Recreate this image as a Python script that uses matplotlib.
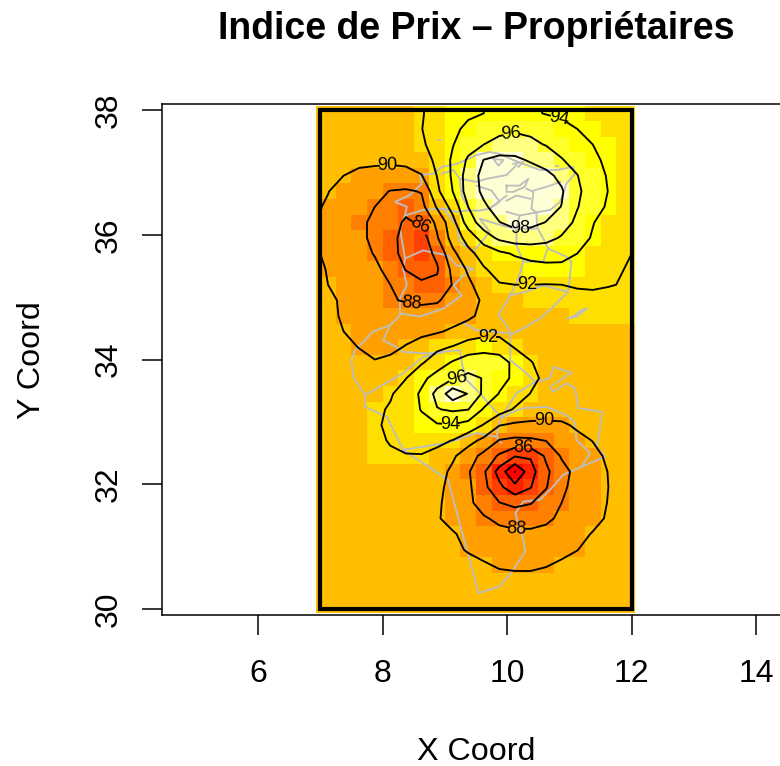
import numpy as np
import matplotlib
matplotlib.use("Agg")
import matplotlib.pyplot as plt
from matplotlib.colors import ListedColormap, BoundaryNorm
from matplotlib.patches import Rectangle

plt.rcParams['font.family'] = ['Liberation Sans', 'DejaVu Sans']

# grille
lon = [6.875, 7.125, 7.375, 7.625, 7.875, 8.125, 8.375, 8.625, 8.875, 9.125, 9.375,
       9.625, 9.875, 10.125, 10.375, 10.625, 10.875, 11.125, 11.375, 11.625, 11.875, 12.125]
lat = [38.2, 37.95, 37.7, 37.45, 37.2, 36.95, 36.7, 36.45, 36.2, 35.95, 35.7, 35.45, 35.2,
       34.95, 34.7, 34.45, 34.2, 33.95, 33.7, 33.45, 33.2, 32.95, 32.7, 32.45, 32.2, 31.95,
       31.7, 31.45, 31.2, 30.95, 30.7, 30.45, 30.2, 29.95]
indice = [
    [91,91,91,91,91,91.2,91.6,92,92.5,93.2,93.6,94,94.3,94.4,94.2,93.9,93.5,93.3,93,92.6,92.3,92.1],
    [91,91,91,91,91,91,91.5,91.9,92.5,93.2,93.7,94,94.4,94.5,94.3,93.9,93.6,93.3,92.9,92.5,92.2,92],
    [90.9,90.9,90.9,90.9,90.9,91,91.4,91.95,92.9,93.6,94.4,95,95.5,95.7,95.6,95.3,94.7,94,93.3,92.8,92.4,92.1],
    [90.8,90.8,90.8,90.8,90.8,90.9,91.2,91.7,92.8,93.9,95.2,96,96.6,96.9,96.4,95.9,95.4,94.7,94,93.2,92.6,92.2],
    [90.5,90.5,90.5,90.5,90.5,90.4,90.5,91.1,92.4,94.3,96.3,98.05,98.6,98.4,97.8,97.2,96.1,95.4,94.6,93.4,92.8,92.3],
    [90.7,90.4,90,89.5,89.2,89.1,89.3,89.9,92.05,94.3,96.9,98.6,99.2,99.3,99.1,98.5,97.5,96.05,95,93.8,93,92.4],
    [90.5,90.05,89.4,88.9,88.4,87.95,87.8,88.1,91.6,94,96.9,98.4,99.3,99.5,99.4,99,98.2,96.3,95.2,93.95,93.1,92.5],
    [90.3,89.8,89,88.5,88,87.2,86.6,87.4,90.2,92.7,96,97.7,98.8,99.2,99.1,98.7,97.95,96.1,94.9,93.7,92.9,92.4],
    [90.2,89.6,88.9,88.3,87.7,86.8,85.7,86.3,88.4,91.3,95,97,97.95,98.6,98.5,97.95,96.9,95.6,94.1,93.1,92.5,92.2],
    [90.3,89.6,89,88.4,87.6,86.5,85.4,84.9,87.8,90.8,92.7,95,96.4,97,97,96.6,95.8,94.9,93.8,92.8,92.3,92],
    [90.3,89.7,89.1,88.6,87.9,86.5,85.5,85.1,86.4,89.5,91.5,92.7,93.6,94.2,94.6,94.7,94.5,94,93.1,92.5,92.1,91.9],
    [90.5,89.9,89.4,88.9,88.4,87.4,85.9,85.3,85.8,88.5,90.3,91.85,92.6,93,93.3,93.5,93.6,93.4,92.9,92.4,92,91.8],
    [90.7,90,89.6,89.2,88.6,88,87,86.3,86.4,88.1,89.6,91,91.9,92,92,91.95,92,92.05,92.1,92.05,91.95,91.8],
    [91,90.4,89.7,89.3,88.9,88.1,87.9,87.7,87.8,88.7,89.2,90.3,91,91.4,91.6,91.7,91.8,91.85,91.8,91.7,91.7,91.6],
    [91,90.6,89.7,89.4,89.2,88.9,88.7,88.7,88.9,89.2,89.7,90.4,91,91.2,91.3,91.4,91.5,91.6,91.6,91.6,91.6,91.6],
    [91,90.6,90,89.6,89.4,89.3,89.4,89.6,89.8,90.3,90.8,91.2,91.4,91.4,91.3,91.3,91.3,91.3,91.3,91.3,91.3,91.3],
    [91,90.8,90.4,89.95,89.6,89.6,90.1,90.7,91.6,92.1,93,93.4,93.1,91.85,91.4,91.2,91.1,91,91,91,91,91],
    [91,91,90.9,90.5,90.1,90.4,91,91.8,93,94.2,95,95,94.9,93.5,92.1,91.4,91.1,91,91,91,91,91],
    [91,91,91,91,91,91.1,91.95,93.5,94.8,95.8,96.5,95.9,94.7,93.6,92.6,91.5,91.1,91,91,91,91,91],
    [91,91,91,91,91.3,91.8,92.9,94.3,96.6,99.2,97.9,95.6,93.9,93.1,91.95,91.3,91,91,91,91,91,91],
    [91,91,91,91.1,91.6,92.2,93,94.1,95.9,96.3,96.05,93.8,92.9,91.8,91.2,91,91,91,91,91,91,91],
    [91,91,91,91.3,91.7,92.4,92.9,93.4,93.8,93.9,93.3,91.9,90.1,89.7,89.6,89.6,89.7,90.3,90.7,91,91,91],
    [91,91,91,91.3,91.7,92.1,92.5,92.7,92.4,91.95,90.7,89.5,87.9,87.6,87.7,88.05,88.7,89.5,90.05,90.7,91,91],
    [91,91,91.1,91.4,91.6,91.8,91.9,91.9,91.5,90.3,88.9,87.4,85.7,84.1,84.2,86.3,88.2,88.9,89.5,90.3,90.8,91],
    [91,91,91,91.2,91.3,91.4,91.4,91.3,90.8,89.6,88.2,86.3,83.2,79.95,83.2,85.6,87.3,88.6,89.2,90.05,90.7,91],
    [91,91,91,91.2,91.3,91.4,91.4,91.2,90.4,89.5,88.4,86.5,84.5,82.6,83.9,85.9,87.5,88.9,89.5,90,90.7,91],
    [91,91,91,91.1,91.2,91.3,91.3,91.2,90.3,89.3,88.4,87.2,86.05,85.5,85.9,86.8,88,88.9,89.5,90.05,90.7,91],
    [91,91,91,91.1,91.1,91.2,91.2,91.1,90.2,89.3,88.7,88.2,87.6,87.2,87.2,87.6,88.4,89,89.5,90.2,90.6,91],
    [91,91,91,91,91,91.1,91.1,91,90.7,90.2,89.4,88.9,88.5,88.4,88.4,88.6,89,89.5,90.1,90.6,90.9,91],
    [91,91,91,91,91,91,91,91,91,90.5,89.8,89.4,89.2,89.1,89.1,89.3,89.5,89.95,90.7,91,91,91],
    [91,91,91,91,91,91,91,91,91,91,90.7,90.2,89.8,89.7,89.7,89.9,90.3,90.7,91,91,91,91],
    [91,91,91,91,91,91,91,91,91,91,91,90.9,90.6,90.5,90.5,90.7,90.9,91,91,91,91,91],
    [91]*22,
    [91]*22,
]

# heat.colors(12)
couleurs = ["#FF0000", "#FF2000", "#FF4000", "#FF6000", "#FF8000", "#FF9F00",
            "#FFBF00", "#FFDF00", "#FFFF00", "#FFFF2A", "#FFFF80", "#FFFFD5"]
bornes = [80.4, 82, 83.6, 85.2, 86.8, 88.4, 90, 91.6, 93.2, 94.8, 96.4, 98, 99.6]
niveaux = [80, 82, 84, 86, 88, 90, 92, 94, 96, 98]

etiquettes = [(8.08, 37.1), (10.82, 37.84), (10.07, 37.54), (10.2, 36.22), (10.32, 35.26),
              (8.59, 36.04), (8.47, 34.95), (9.70, 34.30), (9.19, 33.70), (9.08, 33.0),
              (10.59, 33.0), (10.26, 32.52), (10.15, 31.35)]

# contours du pays et des gouvernorats (lon, lat)
contour_pays = [(8.60,36.96),(8.81,36.98),(8.95,37.09),(9.19,37.14),(9.51,37.28),(9.72,37.33),(9.88,37.30),
    (10.10,37.20),(10.26,37.14),(10.53,37.04),(10.79,37.04),(11.06,37.09),(11.09,36.98),(10.95,36.82),
    (10.90,36.66),(10.85,36.53),(10.69,36.40),(10.47,36.36),(10.48,36.13),(10.58,35.94),(10.66,35.78),
    (10.95,35.65),(11.03,35.57),(11.01,35.35),(10.98,35.09),(10.79,34.90),(10.53,34.66),(10.31,34.53),
    (10.05,34.39),(10.05,34.23),(10.05,33.99),(10.31,33.78),(10.45,33.64),(10.69,33.70),(10.74,33.88),
    (11.03,33.79),(10.90,33.70),(10.69,33.56),(10.74,33.48),(10.95,33.62),(11.09,33.54),(11.14,33.22),
    (11.52,33.16),(11.49,32.92),(11.44,32.60),(11.57,32.44),(10.90,32.15),(10.69,31.91),(10.53,31.75),
    (10.26,31.72),(10.13,31.53),(10.26,31.11),(10.29,30.92),(10.10,30.63),(9.88,30.36),(9.54,30.25),
    (9.05,32.07),(8.33,32.55),(8.07,33.08),(7.72,33.24),(7.72,33.43),(7.53,33.72),(7.50,33.99),(7.56,34.15),
    (7.85,34.45),(8.12,34.55),(8.28,34.71),(8.28,34.98),(8.39,35.19),(8.33,35.46),(8.36,35.62),(8.28,36.10),
    (8.36,36.31),(8.39,36.45),(8.20,36.53),(8.44,36.64),(8.63,36.82),(8.60,36.96)]
gouvernorats = [
    [(8.36,36.31),(8.65,36.40),(8.98,36.42),(9.19,36.37),(9.35,36.39),(9.56,36.39),(9.72,36.42),(9.99,36.63)],
    [(8.36,35.62),(8.65,35.75),(9.05,35.67),(9.19,35.51),(9.46,35.46),(9.30,35.35),(9.14,35.19),(9.27,35.03),
     (8.98,34.82),(8.60,34.69),(8.28,34.74)],
    [(8.98,36.42),(9.19,36.15),(9.24,35.89),(9.46,35.73),(9.72,36.05),(9.56,36.26),(9.72,36.21),(9.99,36.13),(10.15,36.10)],
    [(10.15,36.10),(10.15,35.83),(10.26,35.57),(10.18,35.30),(10.05,35.03),(9.86,34.71),(9.99,34.55),(10.05,34.42)],
    [(9.27,34.60),(9.51,34.47),(10.05,34.42)],
    [(10.05,35.03),(10.31,35.09),(10.58,35.19),(10.95,35.09)],
    [(10.26,35.57),(10.58,35.57),(10.63,35.73),(10.66,35.78)],
    [(8.95,36.98),(9.14,37.04),(9.24,36.90),(9.27,36.63),(9.40,36.39)],
    [(9.24,36.90),(9.51,36.85),(9.67,36.90),(9.99,36.96),(10.15,37.12)],
    [(9.51,36.79),(9.75,36.71),(9.88,36.53),(9.72,36.42)],
    [(9.99,36.79),(10.20,36.79),(10.34,36.90),(10.28,36.77),(10.10,36.69),(9.99,36.69),(9.99,36.79)],
    [(10.31,36.74),(10.42,36.69),(10.39,36.42),(10.47,36.36)],
    [(10.37,36.58),(10.15,36.63),(9.99,36.55)],
    [(10.85,36.85),(10.69,36.79),(10.42,36.71)],
    [(9.99,36.37),(10.20,36.31),(10.47,36.36)],
    [(10.20,36.31),(10.15,36.10),(10.47,36.10)],
    [(9.78,37.22),(9.86,37.11),(9.94,37.20),(9.78,37.22)],
    [(10.10,37.14),(10.26,37.17),(10.18,37.09)],
    [(8.12,34.55),(8.01,34.31),(8.22,34.20),(8.33,34.12),(8.71,34.10),(9.24,34.15),(9.28,33.91),(9.35,33.67),
     (9.56,33.46),(9.75,33.24),(9.91,33.06),(10.05,33.14),(10.26,33.22),(10.63,33.24),(10.95,33.11),(11.09,32.98),
     (11.11,32.71),(11.33,32.50),(11.20,32.28)],
    [(7.72,33.43),(8.33,33.78),(8.65,34.04),(8.98,34.12)],
    [(8.33,32.55),(9.03,32.66),(9.51,32.82),(9.83,32.76),(9.91,32.66)],
    [(9.83,32.76),(9.88,33.03)],
    [(10.45,33.64),(10.15,33.46),(9.91,33.08)],
    [(10.98,34.66),(11.12,34.69),(11.28,34.82),(11.19,34.79),(11.06,34.69),(10.98,34.66)],
    [(8.89,37.52),(8.93,37.52)],
    [(10.78,37.11),(10.81,37.11)],
]

fig = plt.figure(figsize=(7.8, 7.66), dpi=100)
ax = fig.add_axes([162/780, 1-615/766, (790-162)/780, (615-104)/766])

x = np.array(lon)
y = np.array(lat)[::-1]
z = np.array(indice)[::-1]

cmap = ListedColormap(couleurs)
norm = BoundaryNorm(bornes, cmap.N)
mesh = ax.pcolormesh(x, y, z, cmap=cmap, norm=norm, shading='nearest', zorder=1)
mesh.set_clip_path(Rectangle((6.93, 29.94), 5.13, 8.12, transform=ax.transData))

# carte sous les isolignes
for ligne in [contour_pays] + gouvernorats:
    ax.plot([p[0] for p in ligne], [p[1] for p in ligne], color='#BEBEBE', lw=1.35, zorder=2)

cs = ax.contour(x, y, z, levels=niveaux, colors='black', linewidths=1.35, zorder=3)
cs.set_clip_path(Rectangle((7, 30), 5, 8, transform=ax.transData))
labels = ax.clabel(cs, levels=niveaux, fmt='%d', fontsize=13, manual=etiquettes,
                   inline=True, inline_spacing=4)

ax.add_patch(Rectangle((7, 30), 5, 8, fill=False, ec='black', lw=3, zorder=4, joinstyle='miter'))

ax.set_xlim(4.46, 14.54)
ax.set_ylim(29.9, 38.1)
ax.set_xticks([6, 8, 10, 12, 14])
ax.set_yticks([30, 32, 34, 36, 38])
ax.tick_params(axis='both', length=14.5, width=1.1, labelsize=23)
ax.tick_params(axis='x', pad=17)
ax.tick_params(axis='y', pad=13)
for t in ax.get_yticklabels():
    t.set_rotation(90)
    t.set_va('center')
for s in ax.spines.values():
    s.set_linewidth(1.1)
    s.set_zorder(5)

fig.text(476/780, 1-29/766, "Indice de Prix – Propriétaires", ha='center', va='center',
         fontsize=27, fontweight='bold')
fig.text(476/780, 1-752/766, "X Coord", ha='center', va='center', fontsize=23.2)
fig.text(32/780, 1-360/766, "Y Coord", ha='center', va='center', rotation=90, fontsize=23.2)

fig.savefig("out.png", dpi=100)
